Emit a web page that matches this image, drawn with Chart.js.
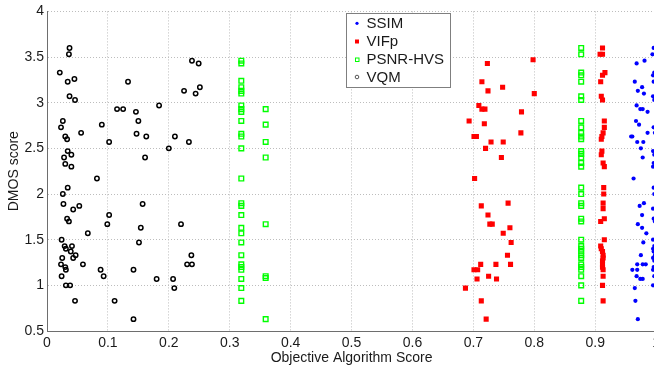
<!DOCTYPE html>
<html>
<head>
<meta charset="utf-8">
<script src="https://cdn.jsdelivr.net/npm/chart.js@4"></script>
<style>
  html, body { margin: 0; padding: 0; overflow: hidden; background: #fff; }
  #wrap { width: 664px; height: 367px; position: relative; }
</style>
</head>
<body>
<div id="wrap"><canvas id="c"></canvas></div>
<script>
// --- data ---
const seriesNames = ['SSIM', 'VIFp', 'PSNR-HVS', 'VQM'];
const xTicks = [0, 0.1, 0.2, 0.3, 0.4, 0.5, 0.6, 0.7, 0.8, 0.9, 1];
const yTicks = [0.5, 1, 1.5, 2, 2.5, 3, 3.5, 4];

const ssimX = [0.981, 0.968, 0.965, 0.977, 0.970, 0.980, 0.968, 0.974, 0.978, 0.986, 0.967, 0.972, 0.959, 0.961, 0.986,
  0.969, 0.979, 0.975, 0.978, 0.963, 0.980, 0.973, 0.977, 0.970, 0.977, 0.984, 0.979, 0.975, 0.969, 0.978, 0.983,
  0.961, 0.969, 0.968, 0.974, 0.978, 0.965, 0.966, 0.970,
  0.996, 0.994, 0.997, 0.995, 0.996, 0.995, 0.997, 0.996, 0.998, 0.995, 0.997, 0.996, 0.995, 0.996, 0.997, 0.995,
  0.996, 0.998, 0.995, 0.997, 0.995, 0.996, 0.998, 0.995, 0.997, 0.996, 0.995, 0.997, 0.995];
const ssimY = [3.46, 3.43, 3.23, 3.17, 3.13, 3.10, 2.97, 2.93, 2.93, 2.90, 2.80, 2.76, 2.63, 2.63, 2.67,
  2.57, 2.57, 2.50, 2.40, 2.17, 1.90, 1.87, 1.77, 1.67, 1.63, 1.57, 1.47, 1.33, 1.23, 1.23, 1.23,
  1.17, 1.17, 1.10, 1.07, 1.07, 0.97, 0.83, 0.63,
  3.60, 3.53, 3.33, 3.30, 3.23, 3.07, 3.03, 2.73, 2.67, 2.47, 2.43, 2.34, 2.30, 2.07, 2.00, 1.84,
  1.73, 1.70, 1.50, 1.43, 1.40, 1.37, 1.33, 1.30, 1.27, 1.20, 1.17, 1.10, 1.00];

const vifX = [0.798, 0.800, 0.723, 0.714, 0.724, 0.748, 0.709, 0.714, 0.719, 0.779, 0.693, 0.718, 0.701, 0.705, 0.778,
  0.729, 0.749, 0.720, 0.746, 0.702, 0.757, 0.713, 0.724, 0.727, 0.731, 0.760, 0.749, 0.762, 0.756, 0.712, 0.737,
  0.761, 0.701, 0.707, 0.706, 0.725, 0.738, 0.687, 0.713, 0.721,
  0.912, 0.908, 0.912, 0.916, 0.912, 0.909, 0.910, 0.912, 0.915, 0.915, 0.913, 0.911, 0.910, 0.911, 0.910, 0.913,
  0.915, 0.914, 0.914, 0.913, 0.913, 0.915, 0.909, 0.915, 0.909, 0.910, 0.912, 0.913, 0.913, 0.912, 0.912, 0.912,
  0.913, 0.913, 0.912, 0.913];
const vifY = [3.47, 3.10, 3.43, 3.23, 3.13, 3.17, 2.97, 2.93, 2.93, 2.90, 2.80, 2.77, 2.63, 2.63, 2.67,
  2.57, 2.57, 2.50, 2.40, 2.17, 1.90, 1.87, 1.77, 1.67, 1.67, 1.63, 1.57, 1.47, 1.33, 1.23, 1.23,
  1.23, 1.17, 1.17, 1.07, 1.10, 1.07, 0.97, 0.83, 0.63,
  3.60, 3.53, 3.53, 3.33, 3.30, 3.23, 3.07, 3.03, 2.80, 2.73, 2.67, 2.63, 2.60, 2.47, 2.43, 2.34,
  2.30, 2.07, 2.00, 1.90, 1.84, 1.73, 1.70, 1.50, 1.43, 1.40, 1.37, 1.33, 1.30, 1.27, 1.23, 1.20,
  1.17, 1.10, 1.00, 0.83];

const psnrX = [0.319, 0.319, 0.319, 0.319, 0.319, 0.319, 0.319, 0.319, 0.319, 0.319, 0.319, 0.319, 0.319, 0.319,
  0.319, 0.319, 0.319, 0.319, 0.319, 0.319, 0.319, 0.319, 0.319, 0.319, 0.319, 0.319, 0.319,
  0.359, 0.359, 0.359, 0.359, 0.359, 0.359, 0.359, 0.359,
  0.877, 0.877, 0.877, 0.877, 0.877, 0.877, 0.877, 0.877, 0.877, 0.877, 0.877, 0.877, 0.877, 0.877, 0.877,
  0.877, 0.877, 0.877, 0.877, 0.877, 0.877, 0.877, 0.877, 0.877, 0.877, 0.877, 0.877, 0.877, 0.877, 0.877,
  0.877, 0.877, 0.877, 0.877, 0.877];
const psnrY = [3.46, 3.43, 3.24, 3.17, 3.13, 3.10, 2.97, 2.93, 2.90, 2.80, 2.66, 2.63, 2.50, 2.17,
  1.90, 1.87, 1.77, 1.63, 1.57, 1.47, 1.33, 1.23, 1.20, 1.17, 1.07, 0.97, 0.83,
  2.93, 2.76, 2.57, 2.40, 1.67, 1.10, 1.08, 0.63,
  3.60, 3.53, 3.33, 3.30, 3.23, 3.07, 3.03, 2.80, 2.73, 2.67, 2.63, 2.60, 2.47, 2.44, 2.40,
  2.34, 2.30, 2.07, 2.00, 1.90, 1.87, 1.73, 1.70, 1.50, 1.43, 1.40, 1.37, 1.33, 1.30, 1.23,
  1.20, 1.17, 1.10, 1.00, 0.83];

const vqmX = [0.037, 0.036, 0.021, 0.034, 0.045, 0.037, 0.046, 0.026, 0.023, 0.030, 0.033, 0.056, 0.034, 0.040,
  0.028, 0.030, 0.040, 0.026, 0.034, 0.027, 0.043, 0.053, 0.033, 0.036, 0.067, 0.024, 0.029, 0.041, 0.031,
  0.039, 0.047, 0.043, 0.025, 0.059, 0.023, 0.030, 0.031, 0.024, 0.031, 0.038, 0.046, 0.082, 0.090, 0.102,
  0.133, 0.115, 0.125, 0.146, 0.150, 0.147, 0.163, 0.161, 0.184, 0.200, 0.210, 0.233, 0.225, 0.244, 0.251,
  0.238, 0.249, 0.102, 0.099, 0.088, 0.093, 0.111, 0.142, 0.142, 0.157, 0.154, 0.151, 0.180, 0.207, 0.209,
  0.220, 0.237, 0.230, 0.238];
const vqmY = [3.60, 3.53, 3.33, 3.23, 3.26, 3.07, 3.03, 2.80, 2.73, 2.63, 2.60, 2.67, 2.47, 2.43,
  2.40, 2.33, 2.30, 2.00, 2.07, 1.89, 1.83, 1.87, 1.73, 1.70, 1.57, 1.50, 1.43, 1.43, 1.40,
  1.37, 1.33, 1.30, 1.30, 1.23, 1.23, 1.20, 1.17, 1.10, 1.00, 1.00, 0.83, 2.17, 2.76, 2.57,
  3.23, 2.93, 2.93, 2.90, 2.80, 2.66, 2.63, 2.40, 2.97, 2.50, 2.63, 2.57, 3.13, 3.10, 3.17,
  3.46, 3.43, 1.77, 1.67, 1.17, 1.10, 0.83, 0.63, 1.17, 1.89, 1.63, 1.47, 1.07, 1.07, 0.97,
  1.67, 1.33, 1.23, 1.23];

const toPts = (xs, ys) => xs.map((x, i) => ({ x: x, y: ys[i] }));

const FONT = 'Liberation Sans, Arial, sans-serif';
const TEXT = '#1a1a1a';

// matlab style legend box in the top middle of the plot
const legendBox = {
  id: 'legendBox',
  afterDraw(chart) {
    const ctx = chart.ctx;
    const x0 = 346, y0 = 13, w = 104, h = 74;
    ctx.save();
    ctx.fillStyle = '#fff';
    ctx.fillRect(x0, y0, w, h);
    ctx.strokeStyle = '#7f7f7f';
    ctx.lineWidth = 1;
    ctx.strokeRect(x0 + 0.5, y0 + 0.5, w, h);
    const rows = [23.3, 41.5, 59.5, 77];
    ctx.font = '15px ' + FONT;
    ctx.textBaseline = 'middle';
    rows.forEach((ry, i) => {
      const mx = 357;
      if (i === 0) {
        ctx.fillStyle = '#0000ff';
        ctx.beginPath(); ctx.arc(mx, ry, 1.6, 0, Math.PI * 2); ctx.fill();
      } else if (i === 1) {
        ctx.fillStyle = '#ff0000';
        ctx.fillRect(mx - 2, ry - 2, 4, 4);
      } else if (i === 2) {
        ctx.strokeStyle = '#00ff00';
        ctx.strokeRect(mx - 1.5, ry - 1.5, 3.5, 3.5);
      } else {
        ctx.strokeStyle = '#555';
        ctx.beginPath(); ctx.arc(mx, ry, 1.8, 0, Math.PI * 2); ctx.stroke();
      }
      ctx.fillStyle = TEXT;
      ctx.fillText(seriesNames[i], 366.5, ry + 0.5);
    });
    ctx.restore();
  }
};

new Chart(document.getElementById('c'), {
  type: 'scatter',
  data: {
    datasets: [
      { label: seriesNames[0], data: toPts(ssimX, ssimY), pointStyle: 'circle', pointRadius: 2.1,
        backgroundColor: '#0000ff', borderColor: '#0000ff', borderWidth: 0, clip: false },
      { label: seriesNames[1], data: toPts(vifX, vifY), pointStyle: 'rect', pointRadius: 3.6,
        backgroundColor: '#ff0000', borderColor: '#ff0000', borderWidth: 0 },
      { label: seriesNames[2], data: toPts(psnrX, psnrY), pointStyle: 'rect', pointRadius: 3.3,
        backgroundColor: 'rgba(0,0,0,0)', borderColor: '#00ff00', borderWidth: 1.4 },
      { label: seriesNames[3], data: toPts(vqmX, vqmY), pointStyle: 'circle', pointRadius: 2.2,
        backgroundColor: 'rgba(0,0,0,0)', borderColor: '#000000', borderWidth: 1.5 }
    ]
  },
  options: {
    responsive: true,
    maintainAspectRatio: false,
    animation: false,
    layout: { padding: { top: 9, right: 7, left: 0, bottom: 0 } },
    plugins: { legend: { display: false }, tooltip: { enabled: false } },
    scales: {
      x: {
        type: 'linear', min: 0, max: 1,
        afterBuildTicks: s => { s.ticks = xTicks.map(v => ({ value: v })); },
        afterFit: s => { s.height = 36; },
        ticks: { color: TEXT, font: { family: FONT, size: 14 }, padding: 4,
          callback: v => String(Math.round(v * 10) / 10) },
        grid: { color: '#bdbdbd', drawTicks: false, lineWidth: 1 },
        border: { display: true, color: '#6e6e6e', dash: [1, 2] },
        title: { display: true, text: 'Objective Algorithm Score', color: TEXT,
          font: { family: FONT, size: 14 }, padding: { top: 0, bottom: 0 } }
      },
      y: {
        type: 'linear', min: 0.5, max: 4,
        afterBuildTicks: s => { s.ticks = yTicks.map(v => ({ value: v })); },
        afterFit: s => { s.width = 47; },
        ticks: { color: TEXT, font: { family: FONT, size: 14 }, padding: 3,
          callback: v => String(v) },
        grid: { color: '#bdbdbd', drawTicks: false, lineWidth: 1 },
        border: { display: true, color: '#6e6e6e', dash: [1, 2] },
        title: { display: true, text: 'DMOS score', color: TEXT,
          font: { family: FONT, size: 14 }, padding: { top: 6, bottom: 0 } }
      }
    }
  },
  plugins: [legendBox, {
    // dotted grid, solid axis lines like the matlab figure
    id: 'gridStyle',
    beforeDatasetsDraw(chart) {
      const a = chart.chartArea, ctx = chart.ctx;
      ctx.save();
      ctx.strokeStyle = '#6e6e6e';
      ctx.lineWidth = 1;
      ctx.setLineDash([]);
      ctx.beginPath();
      ctx.moveTo(Math.round(a.left) + 0.5, a.top);
      ctx.lineTo(Math.round(a.left) + 0.5, Math.round(a.bottom) + 0.5);
      ctx.lineTo(a.right, Math.round(a.bottom) + 0.5);
      ctx.stroke();
      ctx.restore();
    }
  }]
});
</script>
</body>
</html>
